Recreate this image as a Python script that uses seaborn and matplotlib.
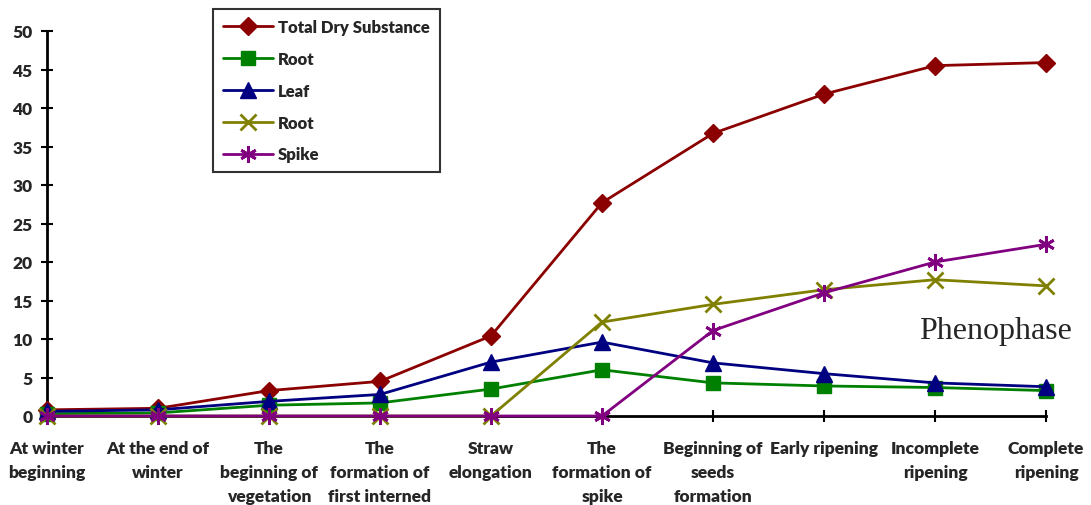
import matplotlib
matplotlib.use("Agg")
import matplotlib.pyplot as plt
import seaborn as sns
import pandas as pd

# Phenophases of winter wheat development
phases = [
    "At winter\nbeginning",
    "At the end of\nwinter",
    "The\nbeginning of\nvegetation",
    "The\nformation of\nfirst interned",
    "Straw\nelongation",
    "The\nformation of\nspike",
    "Beginning of\nseeds\nformation",
    "Early ripening",
    "Incomplete\nripening",
    "Complete\nripening",
]

total_dry = [0.8, 1.0, 3.3, 4.5, 10.4, 27.7, 36.7, 41.8, 45.5, 45.9]
root = [0.3, 0.4, 1.4, 1.7, 3.5, 6.0, 4.3, 3.9, 3.7, 3.3]
leaf = [0.6, 0.8, 1.9, 2.8, 7.0, 9.6, 6.9, 5.5, 4.3, 3.8]
root_stem = [0.0, 0.0, 0.0, 0.0, 0.0, 12.2, 14.5, 16.4, 17.7, 16.9]
spike = [0.0, 0.0, 0.0, 0.0, 0.0, 0.0, 11.1, 16.0, 20.0, 22.3]

series_labels = ["Total Dry Substance", "Root", "Leaf", "Root", "Spike"]
series_values = [total_dry, root, leaf, root_stem, spike]
colors = ["#8B0000", "#008000", "#000080", "#808000", "#800080"]
markers = ["D", "s", "^", "x", (6, 2, 0)]
marker_sizes = [9, 10, 11, 11, 12]

sns.set_style("white")
plt.rcParams["font.family"] = ["Lato", "DejaVu Sans"]
LABEL_WEIGHT = "heavy"
LABEL_SIZE = 12.5

fig = plt.figure(figsize=(10.91, 5.06), dpi=100)
ax = fig.add_axes([47 / 1091, 1 - 417 / 506, 999 / 1091, 385 / 506])

pos = list(range(len(phases)))
for lab, vals, c, m, ms in zip(series_labels, series_values, colors, markers, marker_sizes):
    df = pd.DataFrame({"x": pos, "y": vals})
    sns.lineplot(data=df, x="x", y="y", ax=ax, color=c, marker=m, markersize=ms,
                 markeredgecolor=c, markeredgewidth=2 if m in ("x", (6, 2, 0)) else 1,
                 linewidth=2, label=lab, clip_on=False, zorder=3)

ax.set_xlim(0, len(phases) - 1)
ax.set_ylim(0, 50)
ax.set_yticks(range(0, 51, 5))
ax.set_xticks(pos)
ax.set_xticklabels(phases, fontsize=LABEL_SIZE, fontweight=LABEL_WEIGHT,
                   linespacing=1.6, va="top")
for t in ax.get_yticklabels():
    t.set_fontsize(LABEL_SIZE)
    t.set_fontweight(LABEL_WEIGHT)
ax.set_xlabel("")
ax.set_ylabel("")

for side in ("top", "right"):
    ax.spines[side].set_visible(False)
for side in ("left", "bottom"):
    ax.spines[side].set_color("black")
    ax.spines[side].set_linewidth(2)
    ax.spines[side].set_zorder(2)
ax.tick_params(axis="both", direction="inout", length=9, width=1.5, color="black",
               left=True, bottom=True)
ax.tick_params(axis="y", pad=6)
ax.tick_params(axis="x", pad=13)

ax.get_legend().remove()
handles, labels = ax.get_legend_handles_labels()
leg = fig.legend(handles, labels, loc="upper left",
                 bbox_to_anchor=(213 / 1091, 1 - 10 / 506), borderaxespad=0,
                 frameon=True, fancybox=False, edgecolor="black",
                 prop={"family": ["Lato", "DejaVu Sans"], "weight": LABEL_WEIGHT,
                       "size": 12},
                 handlelength=3.0, labelspacing=0.95, borderpad=0.6, handletextpad=0.3)
leg.get_frame().set_linewidth(1.5)

fig.text(1072 / 1091, 1 - 331 / 506, "Phenophase", ha="right", va="center",
         fontsize=23, family=["Liberation Serif", "DejaVu Serif"])

fig.savefig("out.png", dpi=100)
